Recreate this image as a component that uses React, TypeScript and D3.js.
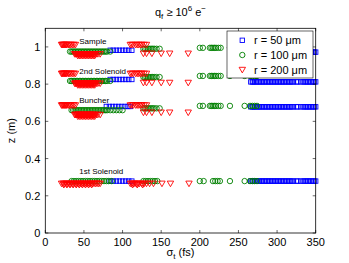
import * as d3 from "d3";

type Series = "b" | "g" | "r";
type Run = { s: Series; z: number; sigma: number[] };

// sigma_t values (fs) for each cluster of results
const redEarlyHigh = [21, 22, 23, 24, 25, 26, 27, 28, 30, 31, 33, 35, 37, 39];
const redEarlyLow = [38, 39, 40, 41, 42, 43, 44, 45, 46, 47, 48, 49, 50, 51, 52, 53, 54, 55, 56, 57, 58, 59, 60, 61, 62, 63, 64, 66, 68, 71];
const redEarlyBottom = [42, 44, 46, 48, 50, 52, 54, 56, 58, 60, 62, 64];
const redMidHigh = [110, 112, 114, 117, 119, 121, 123, 125, 128, 131];
const redMidLow = [127, 131, 138, 150, 161, 185];
const greenEarly = [32, 34, 36, 38, 40, 42, 44, 46, 48, 50, 52, 54, 56, 58, 60, 62, 64, 66, 68, 70, 72, 74, 76, 78, 80, 84];
const greenEarlyLong = [34, 36, 38, 40, 42, 44, 46, 48, 50, 52, 54, 56, 58, 60, 62, 64, 66, 68, 70, 72, 74, 76, 78, 80, 84, 88, 92, 96, 100];
const greenMid = [127, 129, 131, 133, 135, 137, 139, 141, 144, 148];
const greenLate = [200, 204, 213, 215, 217, 219, 221, 224, 227, 239, 258, 265, 268, 271, 274];
const blueEarly = [84, 88, 92, 96, 100, 104, 108, 112];
const blueEarlyLong = [79, 83, 87, 91, 95, 99, 103, 107, 110];
const blueLate = [266, 268, 269, 271, 273, 275, 277, 279, 281, 283, 285, 287, 289, 291, 293, 295, 297, 299, 301, 303, 305, 307, 309, 311, 313, 315, 317, 319, 321, 325, 327, 331, 334, 336, 338, 340, 342, 344, 346, 348, 350];
const redSolenoid1 = [21, 23, 25, 27, 29, 31, 33, 35, 37, 39, 41, 43, 45, 47, 49, 51, 53, 55, 57, 59, 61, 63, 65, 67, 69, 71, 110, 112, 114, 116, 118, 120, 122, 125, 128, 131, 135, 140, 151, 162, 186];
const redSolenoid1Low = [24, 28, 32, 36, 40, 44, 48, 52, 56, 60, 113, 119, 126];
const greenSolenoid1 = [34, 37, 40, 43, 46, 49, 52, 55, 58, 61, 64, 67, 70, 73, 76, 79, 82, 86, 127, 130, 133, 136, 139, 142, 145, 200, 205, 217, 220, 223, 226, 239, 258, 265, 268, 271, 274];
const blueSolenoid1 = [84, 88, 92, 96, 100, 104, 108, 112];

const sampleRuns: Run[] = [
  { s: "b", z: 0.972, sigma: blueLate },
  { s: "b", z: 0.982, sigma: blueEarly },
  { s: "g", z: 0.975, sigma: greenEarly },
  { s: "g", z: 0.99, sigma: greenMid },
  { s: "g", z: 0.995, sigma: greenLate },
  { s: "r", z: 1.012, sigma: redEarlyHigh },
  { s: "r", z: 0.962, sigma: redEarlyLow },
  { s: "r", z: 0.953, sigma: redEarlyBottom },
  { s: "r", z: 1.012, sigma: redMidHigh },
  { s: "r", z: 0.965, sigma: redMidLow },
];
const solenoid2Runs: Run[] = [
  { s: "b", z: 0.812, sigma: blueLate },
  { s: "b", z: 0.825, sigma: blueEarly },
  { s: "g", z: 0.817, sigma: greenEarly },
  { s: "g", z: 0.838, sigma: greenMid },
  { s: "g", z: 0.844, sigma: greenLate },
  { s: "r", z: 0.857, sigma: redEarlyHigh },
  { s: "r", z: 0.804, sigma: redEarlyLow },
  { s: "r", z: 0.795, sigma: redEarlyBottom },
  { s: "r", z: 0.857, sigma: redMidHigh },
  { s: "r", z: 0.808, sigma: redMidLow },
];
const buncherRuns: Run[] = [
  { s: "b", z: 0.678, sigma: blueLate },
  { s: "b", z: 0.68, sigma: blueEarlyLong },
  { s: "g", z: 0.66, sigma: greenEarlyLong },
  { s: "g", z: 0.67, sigma: greenMid },
  { s: "g", z: 0.683, sigma: greenLate },
  { s: "r", z: 0.687, sigma: redEarlyHigh },
  { s: "r", z: 0.636, sigma: redEarlyLow },
  { s: "r", z: 0.627, sigma: redEarlyBottom },
  { s: "r", z: 0.687, sigma: redMidHigh },
  { s: "r", z: 0.648, sigma: redMidLow },
];
const solenoid1Runs: Run[] = [
  { s: "b", z: 0.279, sigma: blueLate },
  { s: "b", z: 0.279, sigma: blueSolenoid1 },
  { s: "g", z: 0.279, sigma: greenSolenoid1 },
  { s: "r", z: 0.266, sigma: redSolenoid1 },
  { s: "r", z: 0.259, sigma: redSolenoid1Low },
];

const rowLabels = ["Sample", "2nd Solenoid", "Buncher", "1st Solenoid"];
const rowLabelZ = [1.014, 0.853, 0.697, 0.317];
const rowLabelSigma = 44;

const xTicks = [0, 50, 100, 150, 200, 250, 300, 350];
const yTicks = [0, 0.2, 0.4, 0.6, 0.8, 1];
const legendItems: { s: Series; label: string }[] = [
  { s: "b", label: "r = 50 \u03bcm" },
  { s: "g", label: "r = 100 \u03bcm" },
  { s: "r", label: "r = 200 \u03bcm" },
];

const colors: Record<Series, string> = { b: "#0000ff", g: "#008000", r: "#ff0000" };

const W = 349;
const H = 263;
const left = 45.3;
const right = 315.7;
const top = 28.3;
const bottom = 233;

function Marker({ s, x, y }: { s: Series; x: number; y: number }) {
  const c = colors[s];
  if (s === "b") {
    return <rect x={x - 2.2} y={y - 2.2} width={4.4} height={4.4} fill="none" stroke={c} strokeWidth={0.9} />;
  }
  if (s === "g") {
    return <circle cx={x} cy={y} r={2.7} fill="none" stroke={c} strokeWidth={0.9} />;
  }
  const p = `M${x - 3.2},${y - 2.4}L${x + 3.2},${y - 2.4}L${x},${y + 3.2}Z`;
  return <path d={p} fill="none" stroke={c} strokeWidth={0.9} />;
}

export default function App() {
  const x = d3.scaleLinear().domain([0, 350]).range([left, right]);
  const y = d3.scaleLinear().domain([0, 1.1]).range([bottom, top]);
  const allRuns = [...solenoid1Runs, ...buncherRuns, ...solenoid2Runs, ...sampleRuns];
  const order: Series[] = ["b", "g", "r"];
  const points: { s: Series; sx: number; z: number }[] = [];
  order.forEach((s) =>
    allRuns.filter((r) => r.s === s).forEach((r) => r.sigma.forEach((v) => points.push({ s, sx: v, z: r.z })))
  );
  const font = "'Liberation Sans', Arial, Helvetica, sans-serif";
  const lx = 227;
  const ly = 31;

  return (
    <svg
      width={W}
      height={H}
      style={{ position: "absolute", left: 0, top: 0, background: "#fff" }}
      fontFamily={font}
    >
      <rect x={0} y={0} width={W} height={H} fill="#fff" />
      {points.map((p, i) => (
        <Marker key={i} s={p.s} x={x(p.sx)} y={y(p.z)} />
      ))}
      {rowLabels.map((t, i) => (
        <text key={t} x={x(rowLabelSigma)} y={y(rowLabelZ[i])} fontSize={8} fill="#000">
          {t}
        </text>
      ))}
      {/* axes box */}
      <rect x={left} y={top} width={right - left} height={bottom - top} fill="none" stroke="#000" strokeWidth={0.8} />
      {xTicks.map((t) => (
        <g key={t}>
          <line x1={x(t)} x2={x(t)} y1={bottom} y2={bottom - 3} stroke="#000" strokeWidth={0.6} />
          <line x1={x(t)} x2={x(t)} y1={top} y2={top + 3} stroke="#000" strokeWidth={0.6} />
          <text x={x(t)} y={bottom + 13} fontSize={11} textAnchor="middle">
            {t}
          </text>
        </g>
      ))}
      {yTicks.map((t) => (
        <g key={t}>
          <line x1={left} x2={left + 3} y1={y(t)} y2={y(t)} stroke="#000" strokeWidth={0.6} />
          <line x1={right} x2={right - 3} y1={y(t)} y2={y(t)} stroke="#000" strokeWidth={0.6} />
          <text x={left - 5} y={y(t) + 4} fontSize={11} textAnchor="end">
            {t === 0 || t === 1 ? t : t.toFixed(1)}
          </text>
        </g>
      ))}
      {/* legend */}
      <rect x={lx} y={ly} width={86} height={47} fill="#fff" stroke="#000" strokeWidth={0.6} />
      {legendItems.map((d, i) => (
        <g key={d.s}>
          <Marker s={d.s} x={lx + 15.3} y={ly + 9.3 + i * 14.7} />
          <text x={lx + 27} y={ly + 13.3 + i * 14.7} fontSize={11}>
            {d.label}
          </text>
        </g>
      ))}
      {/* title */}
      <text x={(left + right) / 2} y={16} fontSize={11} textAnchor="middle">
        q<tspan fontSize={8} dy={3}>f</tspan>
        <tspan dy={-3}> ≥ 10</tspan>
        <tspan fontSize={8} dy={-5}>6</tspan>
        <tspan dy={5}> e</tspan>
        <tspan fontSize={8} dy={-5}>−</tspan>
      </text>
      {/* axis labels */}
      <text transform={`translate(15,${(top + bottom) / 2}) rotate(-90)`} fontSize={11} textAnchor="middle">
        z (m)
      </text>
      <text x={(left + right) / 2} y={256} fontSize={11} textAnchor="middle">
        σ<tspan fontSize={8} dy={3}>t</tspan>
        <tspan dy={-3}> (fs)</tspan>
      </text>
    </svg>
  );
}
